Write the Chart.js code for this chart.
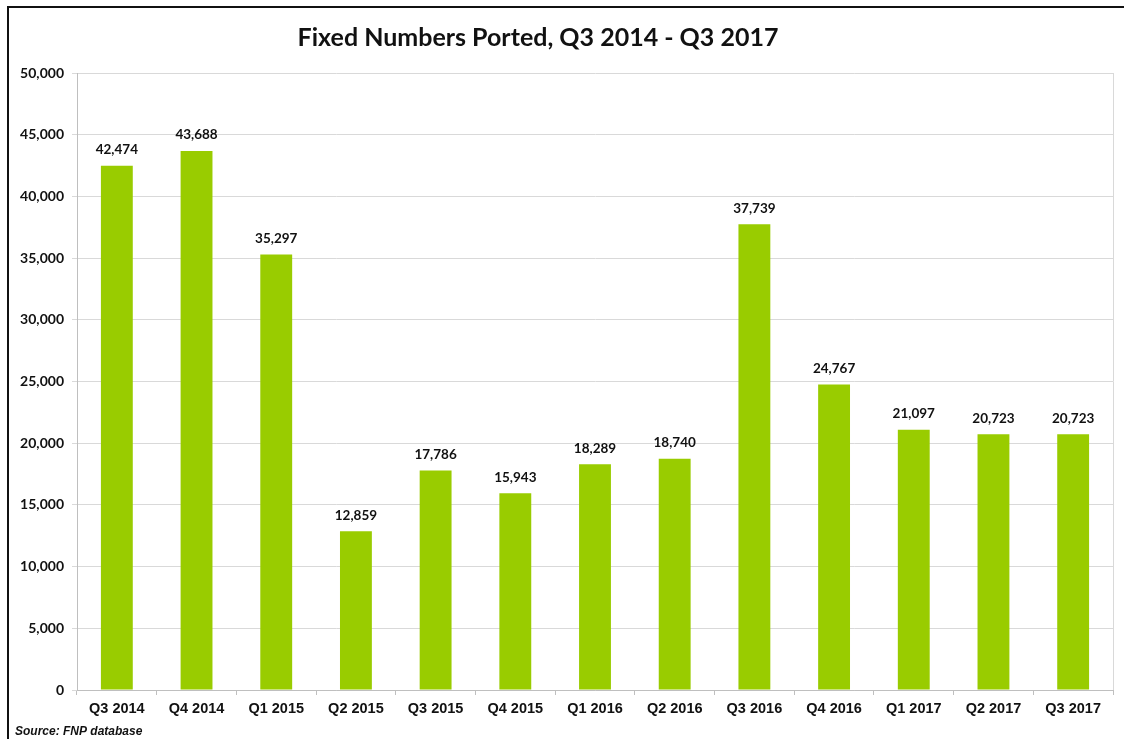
<!DOCTYPE html>
<html>
<head>
<meta charset="utf-8">
<script src="https://cdn.jsdelivr.net/npm/chart.js@4/dist/chart.umd.min.js"></script>
<style>
  html, body { margin: 0; padding: 0; background: #fff; overflow: hidden; }
  #wrap { position: relative; width: 1124px; height: 739px; overflow: hidden; }
  #frame { position: absolute; left: 7px; top: 6px; width: 2000px; height: 2000px; border-left: 2px solid #111; border-top: 2px solid #111; box-sizing: border-box; pointer-events: none; }
  canvas { position: absolute; left: 0; top: 0; }
</style>
</head>
<body>
<div id="wrap">
  <canvas id="c" width="1124" height="739"></canvas>
  <div id="frame"></div>
</div>
<script>
const categories = ["Q3 2014","Q4 2014","Q1 2015","Q2 2015","Q3 2015","Q4 2015","Q1 2016","Q2 2016","Q3 2016","Q4 2016","Q1 2017","Q2 2017","Q3 2017"];
const portedValues = [42474, 43688, 35297, 12859, 17786, 15943, 18289, 18740, 37739, 24767, 21097, 20723, 20723];
const yTicks = [0, 5000, 10000, 15000, 20000, 25000, 30000, 35000, 40000, 45000, 50000];
const titleText = "Fixed Numbers Ported, Q3 2014 - Q3 2017";
const sourceText = "Source: FNP database";

const fmt = v => v.toLocaleString('en-US');

const extras = {
  id: 'extras',
  afterDatasetsDraw(chart) {
    const ctx = chart.ctx;
    const area = chart.chartArea;
    ctx.save();
    // right border of plot area
    ctx.strokeStyle = '#d9d9d9';
    ctx.lineWidth = 1;
    ctx.beginPath();
    ctx.moveTo(Math.round(area.right) + 0.5, area.top);
    ctx.lineTo(Math.round(area.right) + 0.5, area.bottom);
    ctx.stroke();
    // data labels
    ctx.fillStyle = '#111';
    ctx.font = 'bold 13.5px Lato, "Open Sans", sans-serif';
    ctx.textAlign = 'center';
    ctx.textBaseline = 'middle';
    const meta = chart.getDatasetMeta(0);
    meta.data.forEach((bar, i) => {
      ctx.fillText(fmt(portedValues[i]), bar.x, bar.y - 16);
    });
    // title
    ctx.font = 'bold 25px Lato, "Open Sans", sans-serif';
    ctx.fillText(titleText, 538, 38);
    // source
    ctx.font = 'italic bold 12px "Liberation Sans", Arial, sans-serif';
    ctx.textAlign = 'left';
    ctx.fillText(sourceText, 15, 732);
    ctx.restore();
  }
};

new Chart(document.getElementById('c'), {
  type: 'bar',
  data: {
    labels: categories,
    datasets: [{
      data: portedValues,
      backgroundColor: '#99cc00',
      borderWidth: 0,
      categoryPercentage: 1.0,
      barPercentage: 0.4
    }]
  },
  options: {
    responsive: false,
    animation: false,
    devicePixelRatio: 1,
    layout: { padding: { top: 73, right: 11, bottom: 0, left: 0 } },
    plugins: { legend: { display: false }, tooltip: { enabled: false }, title: { display: false } },
    scales: {
      x: {
        offset: true,
        grid: { display: true, drawOnChartArea: false, offset: true, color: '#bfbfbf', tickLength: 5 },
        border: { display: true, color: '#bfbfbf' },
        ticks: { color: '#111', padding: 5, maxRotation: 0, font: { family: '"Liberation Sans", Arial, sans-serif', weight: 'bold', size: 14.5 } },
        afterFit(s) { s.height = 49; }
      },
      y: {
        min: 0, max: 50000,
        afterBuildTicks(s) { s.ticks = yTicks.map(v => ({ value: v })); },
        grid: { color: '#d9d9d9', tickLength: 5 },
        border: { display: true, color: '#bfbfbf' },
        ticks: { color: '#111', padding: 8, callback: v => fmt(v), font: { family: 'Lato, "Open Sans", sans-serif', weight: 'bold', size: 14 } },
        afterFit(s) { s.width = 77; }
      }
    }
  },
  plugins: [extras]
});
</script>
</body>
</html>
